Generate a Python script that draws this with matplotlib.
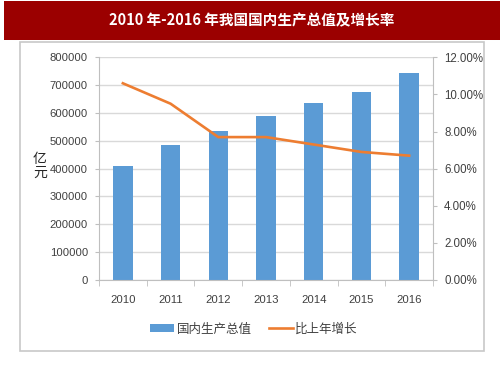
import matplotlib.pyplot as plt
from matplotlib.patches import Rectangle
from matplotlib.ticker import FuncFormatter
import numpy as np

# data
years = ["2010", "2011", "2012", "2013", "2014", "2015", "2016"]
gdp = [408903, 484124, 534123, 588019, 636463, 676708, 744127]
growth = [10.6, 9.5, 7.7, 7.7, 7.3, 6.9, 6.7]

title = "2010 年-2016 年我国国内生产总值及增长率"
bar_label = "国内生产总值"
line_label = "比上年增长"

cjk = ["Noto Sans CJK SC", "DejaVu Sans"]
num_font = "Liberation Sans"
tick_color = "#404040"
grid_color = "#D9D9D9"
spine_color = "#BFBFBF"

fig = plt.figure(figsize=(5.03, 3.78), dpi=100)
W, H = 503, 378

# red title bar
fig.patches.append(Rectangle((4 / W, 1 - 40 / H), 496 / W, 39 / H,
                             transform=fig.transFigure, facecolor="#9B0000",
                             edgecolor="none", zorder=-1))
fig.text(252 / W, 1 - 20 / H, title, color="white", fontsize=10.5,
         fontweight="bold", family=cjk, ha="center", va="center")

# grey frame around the chart
fig.patches.append(Rectangle((20 / W, 1 - 351 / H), 464 / W, 309 / H,
                             transform=fig.transFigure, facecolor="none",
                             edgecolor="#C8C8C8", lw=1.2, zorder=-1))

ax = fig.add_axes([99 / W, 1 - 280 / H, 334 / W, 222.7 / H])
ax.patch.set_alpha(0)
x = np.arange(len(years))
ax.bar(x, gdp, width=0.41, color="#5B9BD5", zorder=2, label=bar_label)
ax.set_xlim(-0.5, len(years) - 0.5)
ax.set_ylim(0, 800000)
ax.set_yticks(np.arange(0, 800001, 100000))
ax.grid(axis="y", color=grid_color, lw=1, zorder=0)
ax.set_axisbelow(True)
ax.set_xticks(x)
ax.set_xticklabels(years, fontsize=8.2, family=num_font, color=tick_color)
ax.set_xticks(np.arange(-0.5, len(years)), minor=True)
ax.tick_params(axis="x", which="major", length=0, pad=11)
ax.tick_params(axis="x", which="minor", length=4, color=spine_color)
ax.tick_params(axis="y", length=3, color=spine_color, labelsize=8.1,
               labelcolor=tick_color, pad=5)
for lab in ax.get_yticklabels():
    lab.set_family(num_font)
for side in ["top", "right"]:
    ax.spines[side].set_visible(False)
for side in ["left", "bottom"]:
    ax.spines[side].set_color(spine_color)

ax2 = ax.twinx()
ax2.plot(x, growth, color="#ED7D31", lw=1.9, zorder=3, label=line_label)
ax2.set_ylim(0, 12)
ax2.set_yticks(np.arange(0, 12.1, 2))
ax2.yaxis.set_major_formatter(FuncFormatter(lambda v, p: f"{v:.2f}%"))
ax2.tick_params(axis="y", length=3, color=spine_color, labelsize=8.3,
                labelcolor=tick_color, pad=5)
for lab in ax2.get_yticklabels():
    lab.set_family(num_font)
for side in ["top", "left", "bottom"]:
    ax2.spines[side].set_visible(False)
ax2.spines["right"].set_color(spine_color)

# y-axis unit, written vertically
fig.text(40 / W, 1 - 166 / H, "亿\n元", fontsize=10, family=cjk,
         ha="center", va="center", linespacing=1.0, color="#262626")

# legend
h1, l1 = ax.get_legend_handles_labels()
h2, l2 = ax2.get_legend_handles_labels()
fig.legend(h1 + h2, l1 + l2, loc="center", bbox_to_anchor=(254 / W, 1 - 329 / H),
           ncol=2, frameon=False, prop={"family": cjk, "size": 9},
           handlelength=1.9, handleheight=0.6, columnspacing=1.4,
           handletextpad=0.2, labelcolor=tick_color)

fig.savefig("out.png", dpi=100)
